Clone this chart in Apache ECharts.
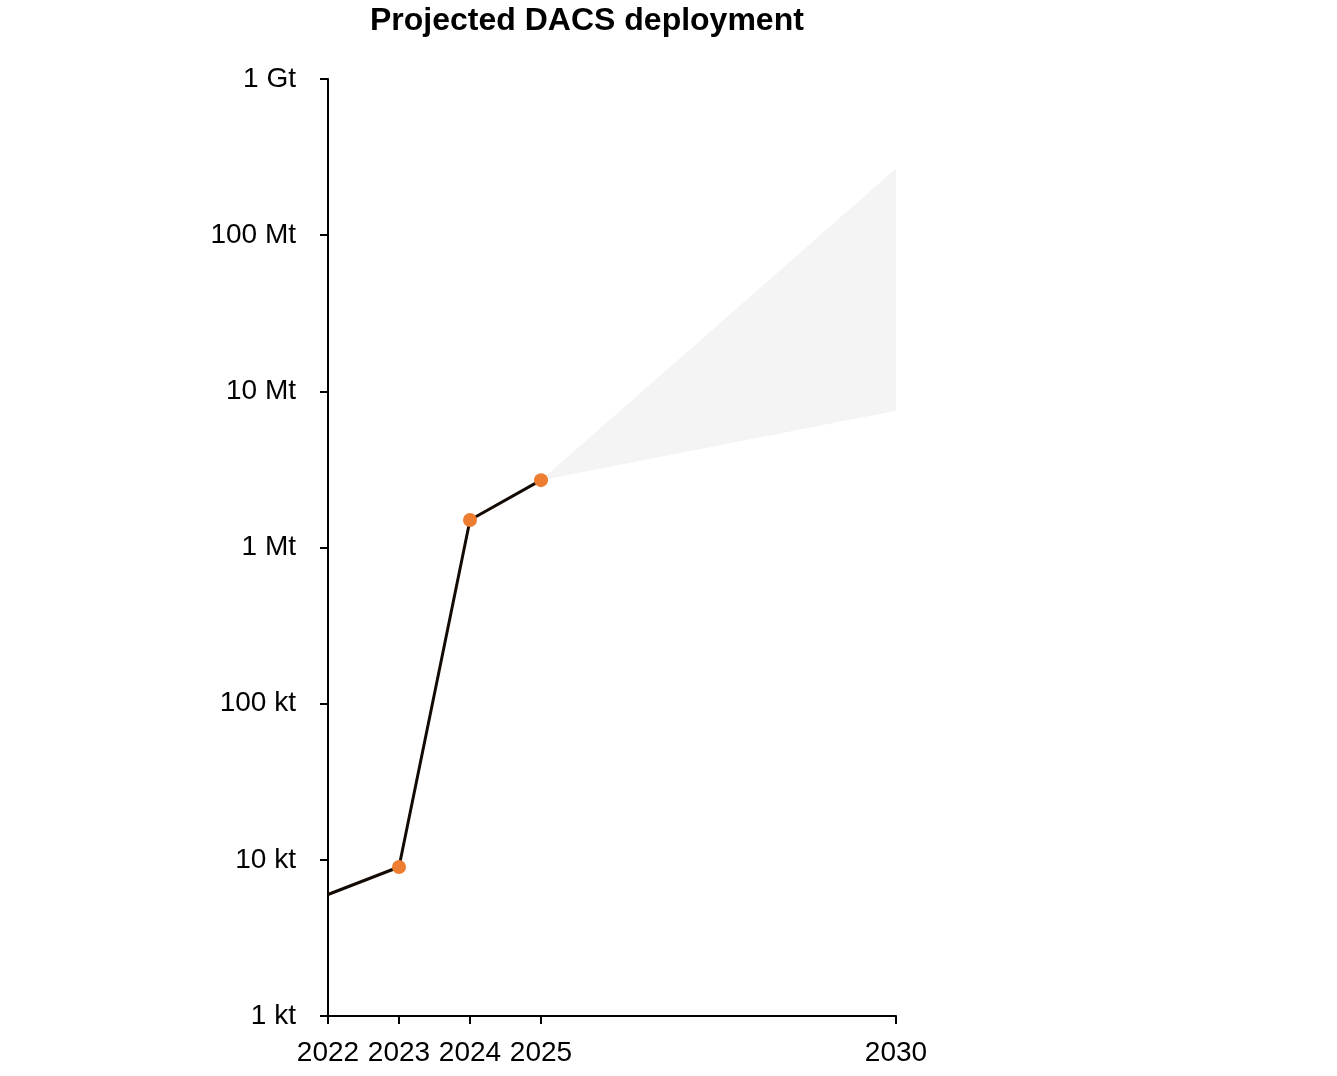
<!DOCTYPE html>
<html>
<head>
<meta charset="utf-8">
<script src="https://cdn.jsdelivr.net/npm/echarts@6/dist/echarts.min.js"></script>
<style>
html,body{margin:0;padding:0;background:#fff;}
#chart{width:1337px;height:1076px;}
</style>
</head>
<body>
<div id="chart"></div>
<script>
// Historical / announced deployment (tonnes CO2 per year)
const years = [2022, 2023, 2024, 2025];
const values = [6.0e3, 9.0e3, 1.5e6, 2.7e6];
// Years that carry a marker
const markerYears = [2023, 2024, 2025];
const markerValues = [9.0e3, 1.5e6, 2.7e6];
// Projection band
const bandYears = [2025, 2030];
const bandLow = [2.7e6, 7.5e6];
const bandHigh = [2.7e6, 2.67e8];
// Axis ticks
const xTicks = [2022, 2023, 2024, 2025, 2030];
const yTicks = [1e3, 1e4, 1e5, 1e6, 1e7, 1e8, 1e9];
const yTickLabels = ['1 kt', '10 kt', '100 kt', '1 Mt', '10 Mt', '100 Mt', '1 Gt'];

const chart = echarts.init(document.getElementById('chart'));
const FONT = 'Liberation Sans, Arial, sans-serif';

const bandData = bandYears.map((y, i) => [y, bandLow[i], bandHigh[i]]);

chart.setOption({
  animation: false,
  title: {
    text: 'Projected DACS deployment',
    left: 365,
    top: 0,
    textStyle: {fontFamily: FONT, fontSize: 32, fontWeight: 'bold', color: '#000'}
  },
  grid: {left: 328, right: 441, top: 79, bottom: 60},
  xAxis: {
    type: 'value',
    min: 2022,
    max: 2030,
    splitLine: {show: false},
    axisLine: {lineStyle: {color: '#000', width: 2}},
    axisTick: {show: true, length: 8, lineStyle: {color: '#000', width: 2}, customValues: xTicks},
    axisLabel: {
      customValues: xTicks,
      margin: 23,
      color: '#000',
      fontFamily: FONT,
      fontSize: 28,
      formatter: v => String(v)
    }
  },
  yAxis: {
    type: 'log',
    logBase: 10,
    min: 1e3,
    max: 1e9,
    splitLine: {show: false},
    axisLine: {show: true, lineStyle: {color: '#000', width: 2}},
    axisTick: {show: true, length: 8, lineStyle: {color: '#000', width: 2}, customValues: yTicks},
    axisLabel: {
      customValues: yTicks,
      margin: 32,
      color: '#000',
      fontFamily: FONT,
      fontSize: 28,
      formatter: v => {
        const idx = yTicks.findIndex(t => Math.abs(Math.log10(t) - Math.log10(v)) < 1e-6);
        return idx >= 0 ? yTickLabels[idx] : '';
      }
    }
  },
  series: [
    {
      type: 'custom',
      z: 1,
      data: bandData,
      renderItem: (params, api) => {
        if (params.dataIndex !== 0) return null;
        const upper = bandData.map(d => api.coord([d[0], d[2]]));
        const lower = bandData.map(d => api.coord([d[0], d[1]])).reverse();
        return {
          type: 'polygon',
          shape: {points: upper.concat(lower)},
          style: {fill: '#f4f4f4', stroke: null}
        };
      },
      silent: true
    },
    {
      type: 'line',
      z: 2,
      data: years.map((y, i) => [y, values[i]]),
      showSymbol: false,
      lineStyle: {color: '#140a04', width: 3},
      silent: true
    },
    {
      type: 'scatter',
      z: 3,
      data: markerYears.map((y, i) => [y, markerValues[i]]),
      symbol: 'circle',
      symbolSize: 14,
      itemStyle: {color: '#ED7D31', opacity: 1},
      silent: true
    }
  ]
});
</script>
</body>
</html>
